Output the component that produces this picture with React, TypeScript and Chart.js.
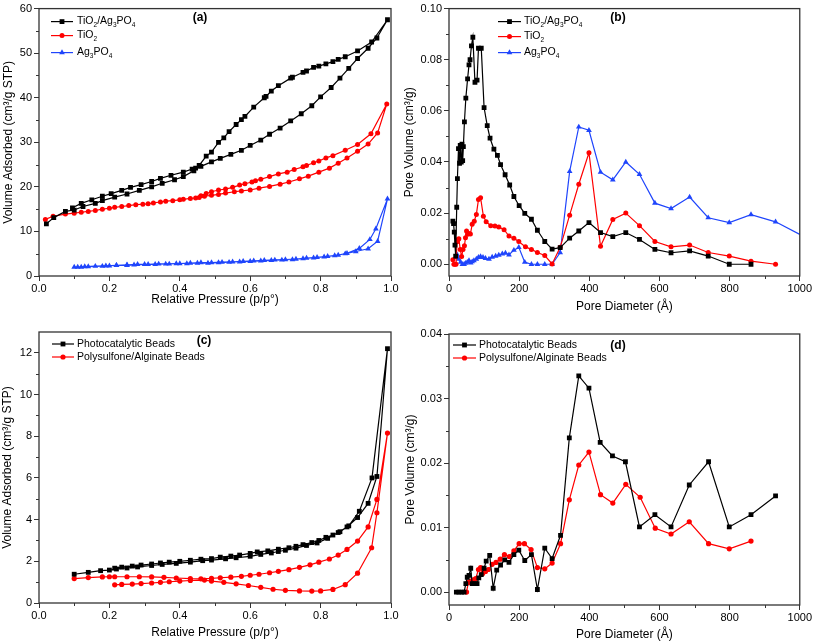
import React, { useEffect, useRef } from 'react';
import { Chart, registerables } from 'chart.js';
Chart.register(...registerables);

const FONT = "'Liberation Sans', Arial, Helvetica, sans-serif";
const BLACK = '#000000';
const RED = '#ff0000';
const BLUE = '#1f45fc';

// ---------- Panel (a): N2 isotherms ----------
const aCompAdsP = [0.021,0.042,0.075,0.10,0.125,0.16,0.18,0.215,0.25,0.285,0.32,0.35,0.385,0.41,0.44,0.46,0.49,0.515,0.545,0.575,0.60,0.63,0.655,0.685,0.715,0.745,0.775,0.80,0.83,0.855,0.88,0.905,0.935,0.96,0.99];
const aCompAdsV = [11.7,13.1,14.5,14.8,15.6,16.3,16.9,17.7,18.4,19.2,20.0,20.8,21.6,22.3,23.6,24.6,25.6,26.4,27.3,28.2,29.3,30.5,31.8,33.2,34.8,36.4,38.2,40.2,42.3,44.4,46.6,48.8,51.1,53.4,57.5];
const aCompDesP = [0.945,0.905,0.87,0.85,0.835,0.815,0.795,0.78,0.76,0.75,0.72,0.715,0.68,0.66,0.645,0.64,0.61,0.585,0.575,0.56,0.54,0.525,0.51,0.49,0.475,0.455,0.445,0.435,0.41,0.375,0.345,0.32,0.29,0.26,0.235,0.205,0.18,0.15,0.12,0.095];
const aCompDesV = [52.5,50.5,49.2,48.6,48.1,47.6,47.1,46.8,46.0,45.7,44.6,44.4,42.7,41.5,40.3,40.0,37.9,35.8,35.1,34.0,32.4,31.0,30.0,27.8,26.9,24.8,24.2,24.0,23.3,22.6,21.9,21.2,20.5,19.9,19.2,18.5,17.9,17.1,16.3,15.3];

const aTiAdsP = [0.018,0.04,0.075,0.1,0.12,0.14,0.16,0.18,0.2,0.215,0.235,0.255,0.275,0.295,0.31,0.325,0.345,0.36,0.38,0.4,0.41,0.43,0.445,0.455,0.47,0.49,0.51,0.53,0.555,0.575,0.60,0.625,0.655,0.685,0.71,0.74,0.765,0.795,0.825,0.85,0.875,0.905,0.935,0.962,0.988];
const aTiAdsV = [12.7,13.4,13.9,14.1,14.3,14.5,14.7,15.0,15.2,15.4,15.6,15.8,16.0,16.1,16.2,16.4,16.6,16.8,16.9,17.1,17.2,17.4,17.5,17.6,17.9,18.1,18.3,18.6,18.9,19.1,19.3,19.7,20.1,20.6,21.1,21.8,22.4,23.3,24.2,25.3,26.5,28.0,29.6,32.1,38.6];
const aTiDesP = [0.943,0.905,0.87,0.835,0.815,0.795,0.78,0.76,0.75,0.725,0.705,0.68,0.655,0.63,0.615,0.605,0.585,0.57,0.55,0.53,0.51,0.49,0.475,0.46];
const aTiDesV = [31.9,29.5,28.2,27.0,26.5,25.8,25.4,24.8,24.5,23.9,23.3,22.9,22.3,21.7,21.4,21.1,20.7,20.4,19.9,19.5,19.3,18.9,18.5,18.0];

const aAgAdsP = [0.10,0.12,0.14,0.18,0.20,0.22,0.25,0.27,0.30,0.33,0.36,0.39,0.42,0.45,0.48,0.51,0.54,0.57,0.60,0.63,0.66,0.69,0.72,0.75,0.78,0.81,0.84,0.87,0.90,0.935,0.962,0.99];
const aAgAdsV = [2.0,2.0,2.1,2.2,2.3,2.4,2.4,2.5,2.6,2.6,2.7,2.8,2.8,2.9,2.9,3.0,3.1,3.2,3.3,3.4,3.5,3.6,3.7,3.9,4.1,4.3,4.6,5.0,5.5,6.1,7.8,17.3];
const aAgDesP = [0.957,0.94,0.91,0.875,0.85,0.82,0.79,0.76,0.73,0.70,0.67,0.64,0.61,0.58,0.55,0.52,0.49,0.46,0.43,0.40,0.37,0.34,0.31,0.28,0.25,0.22,0.19,0.16,0.13,0.11];
const aAgDesV = [10.6,8.2,6.2,5.1,4.7,4.4,4.2,4.0,3.8,3.7,3.6,3.5,3.4,3.3,3.2,3.1,3.0,3.0,2.9,2.8,2.7,2.7,2.6,2.6,2.5,2.4,2.3,2.2,2.1,2.0];

// ---------- Panel (b): pore size distribution ----------
const bCompD = [11,13,15,17,19,22,24,27,30,32,35,37,39,41,44,48,53,57,60,64,68,74,80,84,92,100,109,117,128,138,147,160,173,185,200,216,235,252,273,294,317,344,370,399,432,467,504,543,587,633,686,739,799,861];
const bCompV = [0.0169,0.0159,0.0126,0.0075,0.0032,0.0223,0.0335,0.0452,0.0395,0.0465,0.040,0.047,0.0405,0.046,0.0557,0.065,0.0725,0.078,0.080,0.0854,0.0888,0.0712,0.072,0.0845,0.0845,0.0613,0.0542,0.0493,0.045,0.0426,0.039,0.035,0.031,0.0265,0.0229,0.0199,0.0176,0.0133,0.0089,0.0059,0.0065,0.0102,0.013,0.0163,0.0124,0.0108,0.0124,0.0097,0.0058,0.0045,0.0052,0.0032,0.0,0.0];
const bTiD = [11,14,17,20,23,26,28,32,36,40,44,47,50,53,57,61,66,72,78,84,90,98,106,119,131,142,157,171,185,199,218,235,252,273,294,317,344,370,399,432,467,504,543,587,633,686,739,799,861,931];
const bTiV = [0.0018,0.0,0.0,0.0,0.0088,0.0097,0.010,0.0058,0.0030,0.0058,0.0072,0.0104,0.0130,0.0117,0.0120,0.0118,0.0156,0.0168,0.0195,0.0253,0.0260,0.0188,0.0166,0.0151,0.0150,0.0146,0.0135,0.0110,0.0102,0.0089,0.0068,0.0058,0.0046,0.0034,0.0001,0.0066,0.0192,0.0313,0.0436,0.0070,0.0175,0.0200,0.0151,0.0089,0.0068,0.0075,0.0046,0.0032,0.0012,0.0];
const bAgD = [19,24,28,33,38,43,47,52,57,62,66,71,78,84,90,97,104,114,123,133,142,152,161,171,185,199,216,235,252,273,294,317,344,370,399,432,467,504,543,587,633,686,739,799,861,931,1070];
const bAgV = [0.0027,0.0036,0.0020,0.0008,0.0,0.0,0.0004,0.0008,0.0014,0.0005,0.0010,0.0014,0.0020,0.0027,0.0030,0.0027,0.0023,0.0020,0.0028,0.0032,0.0036,0.0041,0.0044,0.0037,0.0055,0.0066,0.0008,0.0,0.0,0.0,0.0,0.0046,0.0363,0.0537,0.0524,0.0360,0.0330,0.0400,0.0352,0.0239,0.0218,0.0263,0.0182,0.0163,0.0194,0.0166,0.0067];

// ---------- Panel (c): bead isotherms ----------
const cPhotoAdsP = [0.10,0.14,0.175,0.20,0.22,0.25,0.28,0.32,0.35,0.39,0.43,0.465,0.49,0.53,0.56,0.60,0.63,0.66,0.68,0.70,0.73,0.76,0.79,0.82,0.85,0.875,0.905,0.935,0.96,0.99];
const cPhotoAdsV = [1.38,1.47,1.55,1.58,1.63,1.68,1.73,1.80,1.85,1.90,1.96,2.03,2.06,2.12,2.17,2.24,2.33,2.40,2.47,2.53,2.63,2.76,2.88,3.10,3.38,3.65,4.10,4.78,6.07,12.2];
const cPhotoDesP = [0.946,0.91,0.88,0.855,0.835,0.815,0.795,0.775,0.75,0.73,0.71,0.68,0.65,0.62,0.60,0.57,0.545,0.515,0.49,0.46,0.43,0.40,0.37,0.345,0.32,0.29,0.265,0.235,0.215];
const cPhotoDesV = [6.00,4.40,3.70,3.42,3.26,3.15,3.00,2.90,2.80,2.72,2.65,2.58,2.50,2.45,2.38,2.30,2.25,2.20,2.13,2.10,2.05,2.00,1.96,1.92,1.87,1.82,1.77,1.72,1.67];
const cPolyAdsP = [0.10,0.14,0.18,0.20,0.215,0.25,0.285,0.32,0.355,0.39,0.43,0.46,0.49,0.515,0.545,0.575,0.60,0.625,0.655,0.68,0.71,0.74,0.77,0.795,0.825,0.85,0.875,0.905,0.935,0.96,0.99];
const cPolyAdsV = [1.17,1.22,1.25,1.26,1.26,1.26,1.26,1.25,1.23,1.20,1.17,1.16,1.18,1.21,1.24,1.28,1.33,1.38,1.45,1.52,1.60,1.71,1.83,1.96,2.11,2.30,2.57,2.97,3.65,4.97,8.15];
const cPolyDesP = [0.96,0.945,0.905,0.87,0.835,0.80,0.775,0.74,0.70,0.665,0.63,0.595,0.56,0.525,0.49,0.47,0.43,0.40,0.37,0.345,0.32,0.29,0.265,0.235,0.215];
const cPolyDesV = [4.33,2.65,1.43,0.88,0.65,0.58,0.57,0.58,0.61,0.66,0.75,0.84,0.92,0.99,1.05,1.10,1.08,1.05,1.02,0.99,0.96,0.93,0.91,0.89,0.87];

// ---------- Panel (d): bead pore size distribution ----------
const dPhotoD = [21,28,36,43,48,52,57,62,66,74,80,85,92,100,106,116,126,136,147,159,171,185,199,216,235,252,273,294,318,343,370,399,431,466,503,543,587,633,685,740,799,861,931];
const dPhotoV = [0,0,0,0,0.0013,0.0023,0.0026,0.0037,0.0013,0.0013,0.0013,0.0022,0.0027,0.0037,0.0048,0.0057,0.0006,0.0034,0.0042,0.0050,0.0046,0.0058,0.0065,0.0049,0.0058,0.0004,0.0068,0.0052,0.0088,0.0239,0.0335,0.0316,0.0232,0.0211,0.0202,0.0101,0.0120,0.0101,0.0166,0.0202,0.0101,0.0120,0.0149];
const dPolyD = [50,55,62,69,76,84,90,96,104,112,123,134,146,158,172,185,200,215,234,252,273,294,318,343,370,399,432,467,504,545,588,633,685,740,799,861];
const dPolyV = [0.0,0.0015,0.0017,0.0019,0.0021,0.0035,0.0038,0.0029,0.0032,0.0035,0.0043,0.0046,0.0051,0.0058,0.0055,0.0064,0.0075,0.0075,0.0066,0.0038,0.0036,0.0045,0.0075,0.0143,0.0197,0.0217,0.0151,0.0138,0.0167,0.0147,0.0099,0.0090,0.0109,0.0075,0.0067,0.0079];

// ---------- Ticks ----------
const pressureTicks = [0, 0.2, 0.4, 0.6, 0.8, 1.0];
const pressureMinor = [0.1, 0.3, 0.5, 0.7, 0.9];
const diameterTicks = [0, 200, 400, 600, 800, 1000];
const diameterMinor = [100, 300, 500, 700, 900];
const aYTicks = [0, 10, 20, 30, 40, 50, 60];
const aYMinor = [5, 15, 25, 35, 45, 55];
const bYTicks = [0, 0.02, 0.04, 0.06, 0.08, 0.10];
const bYMinor = [0.01, 0.03, 0.05, 0.07, 0.09];
const cYTicks = [0, 2, 4, 6, 8, 10, 12];
const cYMinor = [1, 3, 5, 7, 9, 11];
const dYTicks = [0, 0.01, 0.02, 0.03, 0.04];
const dYMinor = [0.005, 0.015, 0.025, 0.035];

const pts = (xs: number[], ys: number[]) => xs.map((x, i) => ({ x, y: ys[i] }));
const loop = (ax: number[], ay: number[], dx: number[], dy: number[]) => pts(ax, ay).concat(pts(dx, dy));

type Style = 'rect' | 'circle' | 'triangle';
type Series = { label: string; color: string; style: Style; radius: number; data: { x: number; y: number }[] };
type Panel = {
  id: string; left: number; top: number; width: number; height: number;
  area: { l: number; t: number; r: number; b: number };
  xMin: number; xMax: number; yMin: number; yMax: number;
  xTicks: number[]; xMinor: number[]; yTicks: number[]; yMinor: number[];
  xDec: number; yDec: number;
  xTitle: string; yTitle: string; xTitlePad: number; yTitlePad: number;
  series: Series[];
  legend: { x0: number; x1: number; tx: number; rows: number[] };
  tag: { text: string; x: number; y: number };
};

const PANELS: Panel[] = [
  {
    id: 'a', left: 0, top: 0, width: 400, height: 320,
    area: { l: 39, t: 5, r: 391, b: 276 },
    xMin: 0, xMax: 1, yMin: 0, yMax: 60,
    xTicks: pressureTicks, xMinor: pressureMinor, yTicks: aYTicks, yMinor: aYMinor,
    xDec: 1, yDec: 0,
    xTitle: 'Relative Pressure (p/p°)', yTitle: 'Volume Adsorbed (cm³/g STP)', xTitlePad: 12.8, yTitlePad: 1.3,
    series: [
      { label: 'TiO₂/Ag₃PO₄', color: BLACK, style: 'rect', radius: 3.4, data: loop(aCompAdsP, aCompAdsV, aCompDesP, aCompDesV) },
      { label: 'TiO₂', color: RED, style: 'circle', radius: 2.5, data: loop(aTiAdsP, aTiAdsV, aTiDesP, aTiDesV) },
      { label: 'Ag₃PO₄', color: BLUE, style: 'triangle', radius: 3.3, data: loop(aAgAdsP, aAgAdsV, aAgDesP, aAgDesV) },
    ],
    legend: { x0: 12, x1: 34, tx: 38, rows: [13, 27, 44] },
    tag: { text: '(a)', x: 200, y: 18 },
  },
  {
    id: 'b', left: 400, top: 0, width: 413, height: 320,
    area: { l: 49, t: 5, r: 401, b: 276 },
    xMin: 0, xMax: 1000, yMin: -0.0046, yMax: 0.1,
    xTicks: diameterTicks, xMinor: diameterMinor, yTicks: bYTicks, yMinor: bYMinor,
    xDec: 0, yDec: 2,
    xTitle: 'Pore Diameter (Å)', yTitle: 'Pore Volume (cm³/g)', xTitlePad: 5.8, yTitlePad: 2.8,
    series: [
      { label: 'TiO₂/Ag₃PO₄', color: BLACK, style: 'rect', radius: 3.4, data: pts(bCompD, bCompV) },
      { label: 'TiO₂', color: RED, style: 'circle', radius: 2.5, data: pts(bTiD, bTiV) },
      { label: 'Ag₃PO₄', color: BLUE, style: 'triangle', radius: 3.3, data: pts(bAgD, bAgV) },
    ],
    legend: { x0: 49, x1: 72, tx: 75, rows: [13, 28, 44] },
    tag: { text: '(b)', x: 218, y: 18 },
  },
  {
    id: 'c', left: 0, top: 320, width: 400, height: 324,
    area: { l: 39, t: 12, r: 391, b: 283 },
    xMin: 0, xMax: 1, yMin: 0, yMax: 13,
    xTicks: pressureTicks, xMinor: pressureMinor, yTicks: cYTicks, yMinor: cYMinor,
    xDec: 1, yDec: 0,
    xTitle: 'Relative Pressure (p/p°)', yTitle: 'Volume Adsorbed (cm³/g STP)', xTitlePad: 3.8, yTitlePad: 0.3,
    series: [
      { label: 'Photocatalytic Beads', color: BLACK, style: 'rect', radius: 3.4, data: loop(cPhotoAdsP, cPhotoAdsV, cPhotoDesP, cPhotoDesV) },
      { label: 'Polysulfone/Alginate Beads', color: RED, style: 'circle', radius: 2.6, data: loop(cPolyAdsP, cPolyAdsV, cPolyDesP, cPolyDesV) },
    ],
    legend: { x0: 13, x1: 35, tx: 38, rows: [12, 25] },
    tag: { text: '(c)', x: 204, y: 21 },
  },
  {
    id: 'd', left: 400, top: 320, width: 413, height: 324,
    area: { l: 49, t: 14, r: 401, b: 285 },
    xMin: 0, xMax: 1000, yMin: -0.002, yMax: 0.04,
    xTicks: diameterTicks, xMinor: diameterMinor, yTicks: dYTicks, yMinor: dYMinor,
    xDec: 0, yDec: 2,
    xTitle: 'Pore Diameter (Å)', yTitle: 'Pore Volume (cm³/g)', xTitlePad: 1.8, yTitlePad: 3.3,
    series: [
      { label: 'Photocatalytic Beads', color: BLACK, style: 'rect', radius: 3.4, data: pts(dPhotoD, dPhotoV) },
      { label: 'Polysulfone/Alginate Beads', color: RED, style: 'circle', radius: 2.6, data: pts(dPolyD, dPolyV) },
    ],
    legend: { x0: 4, x1: 27, tx: 30, rows: [11, 24] },
    tag: { text: '(d)', x: 218, y: 26 },
  },
];

const SUB: Record<string, string> = { '₀': '0', '₁': '1', '₂': '2', '₃': '3', '₄': '4', '₅': '5', '₆': '6', '₇': '7', '₈': '8', '₉': '9' };

function drawRich(ctx: CanvasRenderingContext2D, text: string, x: number, y: number, size: number) {
  let cx = x;
  let buf = '';
  const flush = () => {
    if (!buf) return;
    ctx.font = `${size}px ${FONT}`;
    ctx.fillText(buf, cx, y);
    cx += ctx.measureText(buf).width;
    buf = '';
  };
  for (const ch of text) {
    if (SUB[ch]) {
      flush();
      const s = size * 0.62;
      ctx.font = `${s}px ${FONT}`;
      ctx.fillText(SUB[ch], cx, y + size * 0.32);
      cx += ctx.measureText(SUB[ch]).width;
    } else {
      buf += ch;
    }
  }
  flush();
}

function drawMarker(ctx: CanvasRenderingContext2D, style: Style, x: number, y: number, r: number) {
  ctx.beginPath();
  if (style === 'rect') {
    const s = r * Math.SQRT1_2;
    ctx.rect(x - s, y - s, 2 * s, 2 * s);
  } else if (style === 'circle') {
    ctx.arc(x, y, r, 0, Math.PI * 2);
  } else {
    let rad = 0;
    const step = (Math.PI * 2) / 3;
    ctx.moveTo(x + Math.sin(rad) * r, y - Math.cos(rad) * r);
    rad += step;
    ctx.lineTo(x + Math.sin(rad) * r, y - Math.cos(rad) * r);
    rad += step;
    ctx.lineTo(x + Math.sin(rad) * r, y - Math.cos(rad) * r);
    ctx.closePath();
  }
  ctx.fill();
}

function PanelChart({ p }: { p: Panel }) {
  const ref = useRef<HTMLCanvasElement | null>(null);
  useEffect(() => {
    if (!ref.current) return;
    const decor = {
      id: 'decor' + p.id,
      afterDraw(chart: any) {
        const ctx: CanvasRenderingContext2D = chart.ctx;
        const a = chart.chartArea;
        const xs = chart.scales.x;
        const ys = chart.scales.y;
        ctx.save();
        ctx.strokeStyle = '#333333';
        ctx.lineWidth = 1.3;
        ctx.strokeRect(a.left, a.top, a.right - a.left, a.bottom - a.top);
        ctx.lineWidth = 1;
        ctx.beginPath();
        for (const v of p.xMinor) {
          const px = Math.round(xs.getPixelForValue(v)) + 0.5;
          ctx.moveTo(px, a.bottom);
          ctx.lineTo(px, a.bottom + 3);
        }
        for (const v of p.yMinor) {
          const py = Math.round(ys.getPixelForValue(v)) + 0.5;
          ctx.moveTo(a.left - 3, py);
          ctx.lineTo(a.left, py);
        }
        ctx.stroke();
        // legend
        p.series.forEach((s, i) => {
          const y = a.top + p.legend.rows[i];
          ctx.strokeStyle = s.color;
          ctx.fillStyle = s.color;
          ctx.lineWidth = 1.2;
          ctx.beginPath();
          ctx.moveTo(a.left + p.legend.x0, y);
          ctx.lineTo(a.left + p.legend.x1, y);
          ctx.stroke();
          drawMarker(ctx, s.style, a.left + (p.legend.x0 + p.legend.x1) / 2, y, s.radius);
          ctx.fillStyle = '#000';
          ctx.textBaseline = 'middle';
          ctx.textAlign = 'left';
          drawRich(ctx, s.label, a.left + p.legend.tx, y, 10.5);
        });
        // panel tag
        ctx.fillStyle = '#000';
        ctx.font = `bold 12px ${FONT}`;
        ctx.textAlign = 'center';
        ctx.textBaseline = 'middle';
        ctx.fillText(p.tag.text, p.tag.x, p.tag.y);
        ctx.restore();
      },
    };
    const tickFont = { family: FONT, size: 11 };
    const titleFont = { family: FONT, size: 12 };
    const chart = new Chart(ref.current, {
      type: 'scatter',
      data: {
        datasets: p.series.map((s) => ({
          label: s.label,
          data: s.data,
          showLine: true,
          borderColor: s.color,
          backgroundColor: s.color,
          borderWidth: 1.2,
          pointStyle: s.style,
          pointRadius: s.radius,
          pointHoverRadius: s.radius,
          pointBorderWidth: 0,
          pointBackgroundColor: s.color,
          tension: 0,
          clip: { left: 5, top: 5, right: 0, bottom: 5 },
        })),
      },
      options: {
        animation: false,
        responsive: false,
        devicePixelRatio: 1,
        events: [],
        layout: { padding: { left: 0, top: p.area.t, right: p.width - p.area.r, bottom: 0 } },
        plugins: { legend: { display: false }, tooltip: { enabled: false } },
        scales: {
          x: {
            type: 'linear',
            min: p.xMin,
            max: p.xMax,
            bounds: 'data',
            afterBuildTicks: (s: any) => { s.ticks = p.xTicks.map((v) => ({ value: v })); },
            afterFit: (s: any) => { s.height = p.height - p.area.b; },
            ticks: {
              font: tickFont, color: '#000', padding: 1, maxRotation: 0, autoSkip: false,
              callback: (v: any) => Number(v).toFixed(p.xDec),
            },
            grid: { display: true, drawOnChartArea: false, drawTicks: true, tickLength: 5, color: '#333', lineWidth: 1 },
            border: { display: false },
            title: { display: true, text: p.xTitle, font: titleFont, color: '#000', padding: { top: 0, bottom: p.xTitlePad } },
          },
          y: {
            type: 'linear',
            min: p.yMin,
            max: p.yMax,
            bounds: 'data',
            afterBuildTicks: (s: any) => { s.ticks = p.yTicks.map((v) => ({ value: v })); },
            afterFit: (s: any) => { s.width = p.area.l; },
            ticks: {
              font: tickFont, color: '#000', padding: 2, autoSkip: false,
              callback: (v: any) => Number(v).toFixed(p.yDec),
            },
            grid: { display: true, drawOnChartArea: false, drawTicks: true, tickLength: 5, color: '#333', lineWidth: 1 },
            border: { display: false },
            title: { display: true, text: p.yTitle, font: titleFont, color: '#000', padding: { top: p.yTitlePad, bottom: 0 } },
          },
        },
      },
      plugins: [decor],
    } as any);
    return () => chart.destroy();
  }, [p]);
  return (
    <canvas
      ref={ref}
      width={p.width}
      height={p.height}
      style={{ position: 'absolute', left: p.left, top: p.top, width: p.width, height: p.height }}
    />
  );
}

export default function App() {
  return (
    <div style={{ position: 'absolute', left: 0, top: 0, width: 813, height: 644, background: '#ffffff' }}>
      {PANELS.map((p) => (
        <PanelChart key={p.id} p={p} />
      ))}
    </div>
  );
}
